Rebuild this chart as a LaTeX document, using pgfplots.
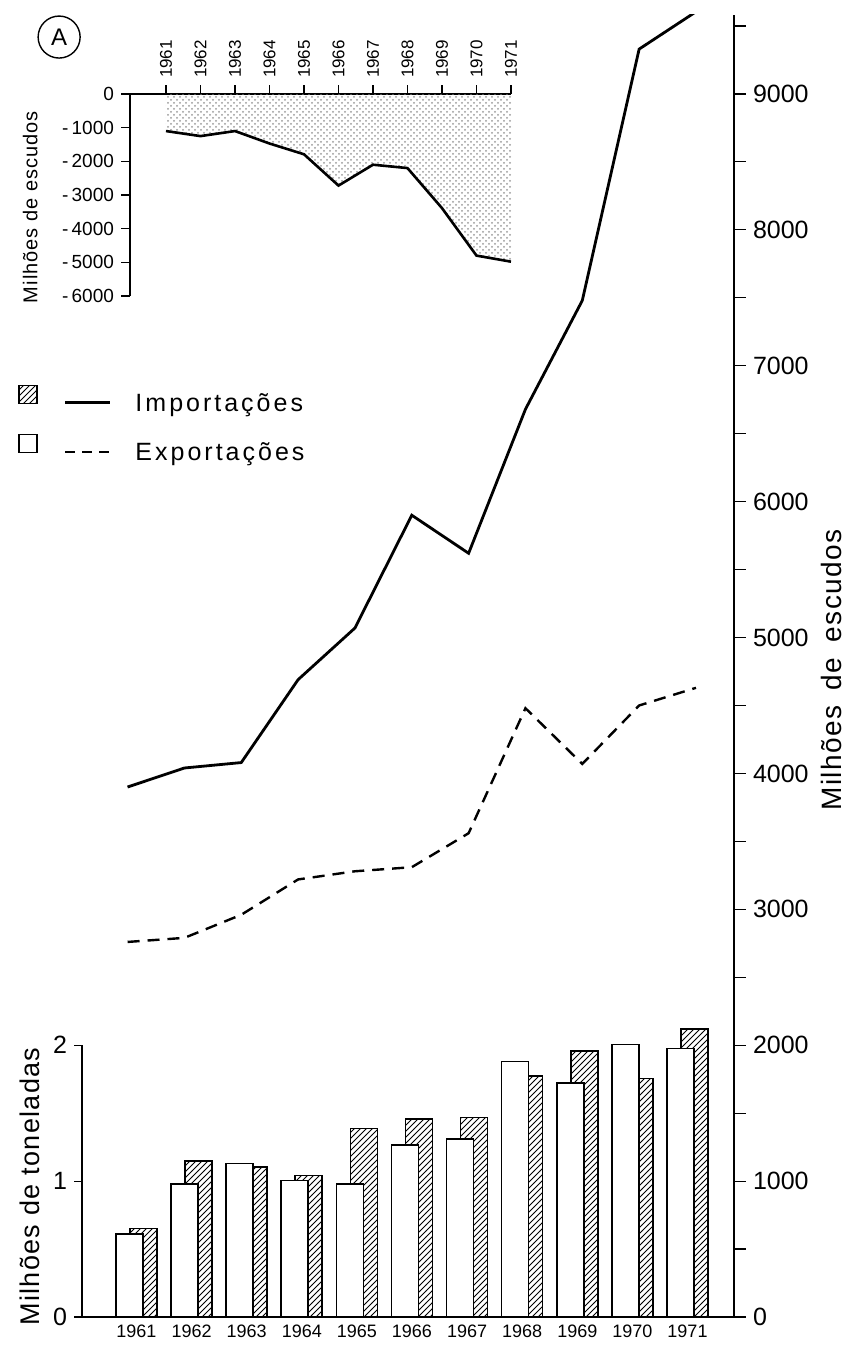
\documentclass[border=0pt]{standalone}
\usepackage{fontspec}
\setmainfont{Liberation Sans}
\newfontfamily\lsfont[LetterSpace=12]{Liberation Sans}
\newfontfamily\lsfonts[LetterSpace=5]{Liberation Sans}
\usepackage{pgfplots}
\pgfplotsset{compat=1.18}
\usetikzlibrary{patterns}

\begin{document}
\begin{tikzpicture}
\useasboundingbox (0,0) rectangle (422pt,-672.5pt);

% ---------------- bar chart (Milhoes de toneladas) ----------------
\begin{axis}[
  at={(41pt,-658.5pt)}, anchor=south west, scale only axis,
  width=326pt, height=135.9pt,
  xmin=1960.011, xmax=1971.844, ymin=0, ymax=2,
  axis x line=bottom, axis y line=left,
  axis line style={-, line width=0.8pt},
  clip=false,
  xtick={1961,1962,1963,1964,1965,1966,1967,1968,1969,1970,1971},
  xticklabels={1961,1962,1963,1964,1965,1966,1967,1968,1969,1970,1971},
  x tick label style={font=\fontsize{9}{10}\selectfont, yshift=3.5pt},
  major x tick style={draw=none},
  ytick={0,1,2}, yticklabels={0,1,2},
  y tick label style={font=\fontsize{12.5}{14}\selectfont},
  tick align=outside, major tick length=4pt,
  every tick/.style={black, line width=0.6pt},
  ylabel={\lsfonts Milhões de toneladas},
  every axis y label/.style={at={(rel axis cs:-0.08,0.48)}, rotate=90, anchor=center, font=\fontsize{13.5}{15}\selectfont},
]
% Importacoes (hatched, behind)
\addplot[ybar, bar width=13.5pt, bar shift=3.5pt, draw=black, line width=0.8pt, fill=white, postaction={pattern=north east lines}]
coordinates {(1961,0.651) (1962,1.148) (1963,1.106) (1964,1.040) (1965,1.386) (1966,1.459) (1967,1.469) (1968,1.775) (1969,1.958) (1970,1.755) (1971,2.120)};
% Exportacoes (white, in front)
\addplot[ybar, bar width=13.5pt, bar shift=-3.5pt, draw=black, line width=0.8pt, fill=white]
coordinates {(1961,0.610) (1962,0.977) (1963,1.130) (1964,1.004) (1965,0.980) (1966,1.266) (1967,1.310) (1968,1.880) (1969,1.720) (1970,2.005) (1971,1.975)};
\end{axis}

% ---------------- line chart (Milhoes de escudos) ----------------
\begin{axis}[
  at={(41pt,-658.5pt)}, anchor=south west, scale only axis,
  width=326pt, height=651pt,
  xmin=1960.198, xmax=1971.669, ymin=0, ymax=9581,
  axis x line=none, axis y line=right,
  axis line style={-, line width=0.8pt},
  ytick={0,1000,2000,3000,4000,5000,6000,7000,8000,9000},
  yticklabels={0,1000,2000,3000,4000,5000,6000,7000,8000,9000},
  minor ytick={500,1500,2500,3500,4500,5500,6500,7500,8500,9500},
  tick align=outside, major tick length=6pt, minor tick length=6pt,
  every tick/.style={black, line width=0.6pt},
  y tick label style={font=\fontsize{12.5}{14}\selectfont},
  ylabel={\lsfonts Milhões\hspace{0.55em}de\hspace{0.55em}escudos},
  every axis y label/.style={at={(rel axis cs:1.149,0.497)}, rotate=90, anchor=center, font=\fontsize{14}{16}\selectfont},
  legend style={at={(rel axis cs:-0.098,0.716)}, anchor=north west, draw=none, fill=none,
    font=\lsfont\fontsize{12.5}{14}\selectfont, row sep=8pt, inner sep=0pt},
  legend cell align=left,
]
\addlegendimage{legend image code/.code={
  \draw[black, line width=0.6pt, fill=white, postaction={pattern=north east lines}] (0pt,0pt) rectangle (9pt,9pt);
  \draw[black, line width=1.3pt] (23pt,0.5pt) -- (45.5pt,0.5pt);
  \path (56pt,0pt);}}
\addlegendentry{Importações}
\addlegendimage{legend image code/.code={
  \draw[black, line width=0.6pt, fill=white] (0pt,0pt) rectangle (9pt,9pt);
  \draw[black, line width=1.2pt, dash pattern=on 5pt off 3.5pt] (23pt,0.5pt) -- (45.5pt,0.5pt);
  \path (56pt,0pt);}}
\addlegendentry{Exportações}
% Importacoes
\addplot[forget plot, black, line width=1.4pt]
coordinates {(1961,3900) (1962,4040) (1963,4080) (1964,4690) (1965,5070) (1966,5900) (1967,5620) (1968,6680) (1969,7480) (1970,9330) (1971,9605)};
% Exportacoes
\addplot[forget plot, black, line width=1.2pt, dash pattern=on 6pt off 4pt]
coordinates {(1961,2760) (1962,2790) (1963,2960) (1964,3220) (1965,3280) (1966,3310) (1967,3560) (1968,4480) (1969,4070) (1970,4500) (1971,4630)};
\end{axis}

% ---------------- inset: balance ----------------
\begin{axis}[
  at={(65pt,-148pt)}, anchor=south west, scale only axis,
  width=190.5pt, height=101pt,
  xmin=1959.957, xmax=1971, ymin=-6000, ymax=0,
  axis x line=top, axis y line=left,
  axis line style={-, line width=0.7pt},
  xtick={1961,1962,1963,1964,1965,1966,1967,1968,1969,1970,1971},
  xticklabels={1961,1962,1963,1964,1965,1966,1967,1968,1969,1970,1971},
  x tick label style={rotate=90, anchor=west, font=\fontsize{8.5}{9}\selectfont},
  ytick={-6000,-5000,-4000,-3000,-2000,-1000,0},
  yticklabels={-\,6000,-\,5000,-\,4000,-\,3000,-\,2000,-\,1000,0},
  y tick label style={font=\fontsize{9.5}{10}\selectfont},
  tick align=outside, major tick length=4.5pt,
  every tick/.style={black, line width=0.6pt},
  ylabel={\lsfonts Milhões de escudos},
  every axis y label/.style={at={(rel axis cs:-0.262,0.44)}, rotate=90, anchor=center, font=\fontsize{10}{11}\selectfont},
  clip=false,
]
\addplot[draw=none, pattern=crosshatch dots, pattern color=black!40]
coordinates {(1961,-1100) (1962,-1250) (1963,-1100) (1964,-1470) (1965,-1790) (1966,-2720) (1967,-2100) (1968,-2200) (1969,-3390) (1970,-4800) (1971,-4980)} \closedcycle;
\addplot[black, line width=1.3pt]
coordinates {(1961,-1100) (1962,-1250) (1963,-1100) (1964,-1470) (1965,-1790) (1966,-2720) (1967,-2100) (1968,-2200) (1969,-3390) (1970,-4800) (1971,-4980)};
\node[draw, circle, line width=0.7pt, minimum size=21pt, inner sep=0pt, font=\fontsize{12}{13}\selectfont] at (rel axis cs:-0.186,1.282) {A};
\end{axis}
\end{tikzpicture}
\end{document}
